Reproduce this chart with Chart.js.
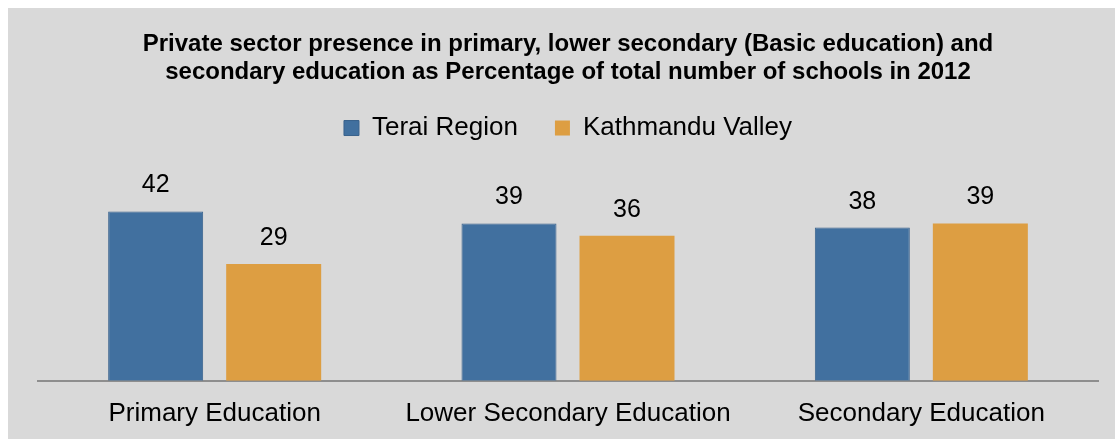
<!DOCTYPE html>
<html>
<head>
<meta charset="utf-8">
<script src="https://cdn.jsdelivr.net/npm/chart.js@4.4.1/dist/chart.umd.min.js"></script>
<style>
  html, body { margin: 0; padding: 0; background: #ffffff; overflow: hidden; }
  #wrap { position: absolute; left: 8px; top: 8px; width: 1107px; height: 431px; background: #d9d9d9; }
</style>
</head>
<body>
<div id="wrap"><canvas id="chart" width="1107" height="431"></canvas></div>
<script>
const categories = ['Primary Education', 'Lower Secondary Education', 'Secondary Education'];
const teraiRegion = [42, 39, 38];
const kathmanduValley = [29, 36, 39];
const titleLines = [
  'Private sector presence in primary, lower secondary (Basic education) and',
  'secondary education as Percentage of total number of schools in 2012'
];

const FONT = 'Arial, "Liberation Sans", sans-serif';

// draws the value above each bar
const valueLabels = {
  id: 'valueLabels',
  afterDatasetsDraw(chart) {
    const ctx = chart.ctx;
    ctx.save();
    ctx.font = '25px ' + FONT;
    ctx.fillStyle = '#000000';
    ctx.textAlign = 'center';
    ctx.textBaseline = 'middle';
    chart.data.datasets.forEach((ds, i) => {
      chart.getDatasetMeta(i).data.forEach((bar, j) => {
        ctx.fillText(ds.data[j], bar.x, bar.y - 26);
      });
    });
    ctx.restore();
  }
};

new Chart(document.getElementById('chart'), {
  type: 'bar',
  data: {
    labels: categories,
    datasets: [
      {
        label: 'Terai Region',
        data: teraiRegion,
        backgroundColor: '#41709f',
        borderColor: '#38618c',
        borderWidth: 1
      },
      {
        label: 'Kathmandu Valley',
        data: kathmanduValley,
        backgroundColor: '#dd9e42',
        borderColor: '#dd9e42',
        borderWidth: 0
      }
    ]
  },
  options: {
    responsive: false,
    animation: false,
    categoryPercentage: 0.668,
    barPercentage: 0.805,
    layout: { padding: { left: 30, right: 17, top: 0, bottom: -7 } },
    plugins: {
      title: {
        display: true,
        fullSize: false,
        text: titleLines,
        color: '#000000',
        font: { family: FONT, size: 24, weight: 'bold', lineHeight: 1.167 },
        padding: { top: 22, bottom: -8 }
      },
      legend: {
        display: true,
        fullSize: false,
        labels: {
          color: '#000000',
          font: { family: FONT, size: 26 },
          boxWidth: 15,
          boxHeight: 15,
          padding: 37
        }
      },
      tooltip: { enabled: false }
    },
    scales: {
      x: {
        grid: { display: false, drawTicks: false },
        border: { display: true, color: '#8e8e8e', width: 2 },
        ticks: { color: '#000000', font: { family: FONT, size: 26 }, padding: 17 }
      },
      y: {
        display: false,
        min: 0,
        max: 57
      }
    }
  },
  plugins: [valueLabels]
});
</script>
</body>
</html>
